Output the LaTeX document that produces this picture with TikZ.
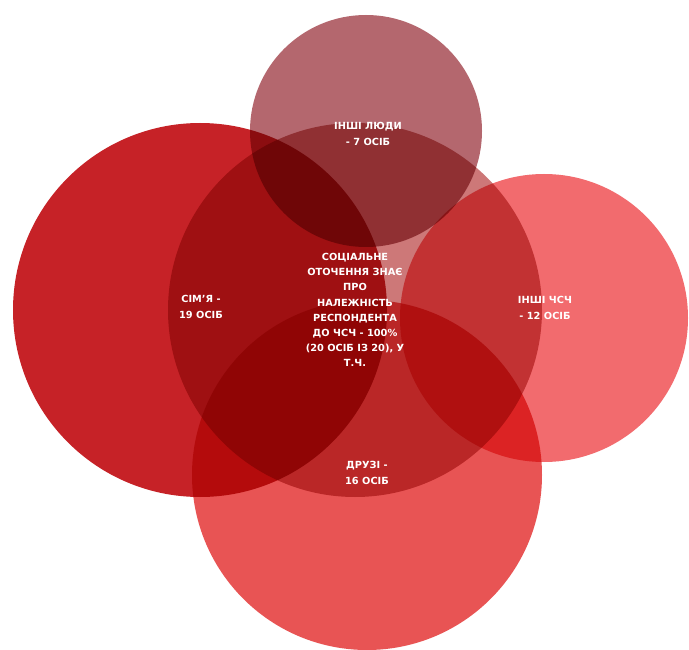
\documentclass[tikz,border=0pt]{standalone}
\usepackage{fontspec}
\setmainfont{DejaVu Sans}
\definecolor{familyred}{RGB}{198,34,39}
\definecolor{socialred}{RGB}{205,120,120}
\definecolor{othersred}{RGB}{180,103,110}
\definecolor{msmred}{RGB}{242,107,110}
\definecolor{friendsred}{RGB}{232,84,84}

\begin{document}
\begin{tikzpicture}[x=1pt,y=-1pt,
    disc/.style={blend mode=multiply},
    lbl/.style={text=white,align=center,font=\bfseries\fontsize{9.8}{15.2}\selectfont}]
    \useasboundingbox (0,0) rectangle (689,650);
    \fill[white] (0,0) rectangle (689,650);

    % circles
    \fill[disc,familyred]  (200,310) circle[radius=187pt];
    \fill[disc,msmred]     (544,318) circle[radius=144pt];
    \fill[disc,friendsred] (367,475) circle[radius=175pt];
    \fill[disc,othersred]  (366,131) circle[radius=116pt];
    \fill[disc,socialred]  (355,310) circle[radius=187pt];

    % labels
    \node[lbl] (others)  at (368,134) {ІНШІ ЛЮДИ\\- 7 ОСІБ};
    \node[lbl] (social)  at (355,310) {СОЦІАЛЬНЕ\\ОТОЧЕННЯ ЗНАЄ\\ПРО\\НАЛЕЖНІСТЬ\\РЕСПОНДЕНТА\\ДО ЧСЧ - 100\%\\(20 ОСІБ ІЗ 20), У\\Т.Ч.};
    \node[lbl] (family)  at (201,307) {СІМ'Я -\\19 ОСІБ};
    \node[lbl] (msm)     at (545,308) {ІНШІ ЧСЧ\\- 12 ОСІБ};
    \node[lbl] (friends) at (367,473) {ДРУЗІ -\\16 ОСІБ};
\end{tikzpicture}
\end{document}
